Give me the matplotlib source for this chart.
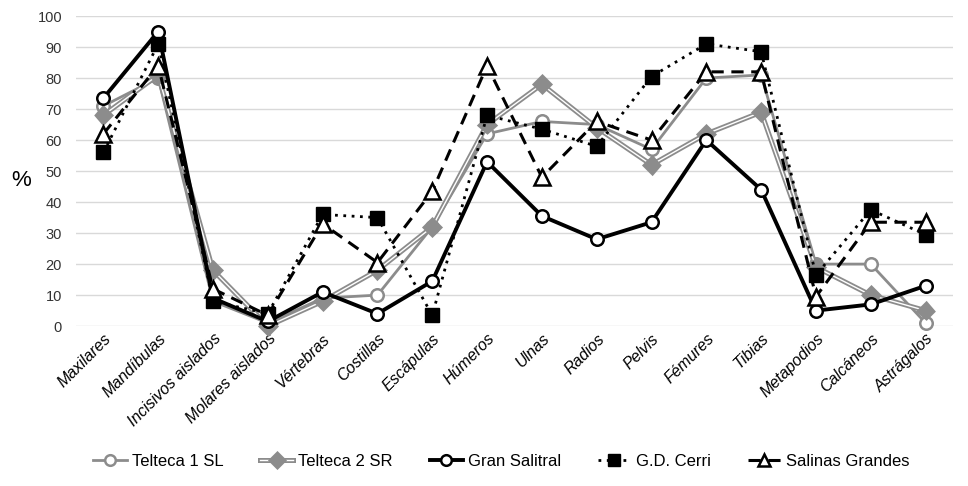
import matplotlib
matplotlib.use("Agg")
import matplotlib.pyplot as plt
import matplotlib.patheffects as pe

categories = ["Maxilares", "Mandíbulas", "Incisivos aislados", "Molares aislados",
              "Vértebras", "Costillas", "Escápulas", "Húmeros", "Ulnas", "Radios",
              "Pelvis", "Fémures", "Tibias", "Metapodios", "Calcáneos", "Astrágalos"]

telteca1 = [71, 80, 8, 1, 9, 10, 32, 62, 66, 65, 57, 80, 81, 20, 20, 1]
telteca2 = [68, 81, 18, 0, 8, 18, 32, 65, 78, 64, 52, 62, 69, 19, 10, 5]
gran_salitral = [73.5, 95, 9, 1.5, 11, 4, 14.5, 53, 35.5, 28, 33.5, 60, 44, 5, 7, 13]
gd_cerri = [56, 91, 8, 4, 36, 35, 3.5, 68, 63.5, 58, 80.5, 91, 88.5, 16.5, 37.5, 29.5]
salinas = [62, 84, 12, 3.5, 33, 20.5, 43.5, 84, 48, 66, 60, 82, 82, 9.5, 33.5, 33.5]

plt.rcParams["font.family"] = ["Liberation Sans", "DejaVu Sans"]

x = list(range(len(categories)))
fig = plt.figure(figsize=(9.68, 4.86), dpi=100)
ax = fig.add_axes([0.0785, 0.329, 0.906, 0.638])

gray = "#8c8c8c"
ax.plot(x, telteca1, color=gray, lw=2, marker="o", ms=9, mfc="white", mec=gray,
        mew=1.8, label="Telteca 1 SL", clip_on=False, zorder=3)
ax.plot(x, telteca2, color="white", lw=1, marker="D", ms=7, mfc=gray, mec=gray,
        label="Telteca 2 SR", clip_on=False, zorder=3,
        path_effects=[pe.Stroke(linewidth=3.6, foreground=gray), pe.Normal()])
ax.plot(x, gran_salitral, color="black", lw=2.8, marker="o", ms=9, mfc="white",
        mec="black", mew=1.8, label="Gran Salitral", clip_on=False, zorder=4)
ax.plot(x, gd_cerri, color="black", lw=2, ls=(0, (1, 2)), marker="s", ms=10,
        mfc="black", mec="black", label="G.D. Cerri", clip_on=False, zorder=5)
ax.plot(x, salinas, color="black", lw=2.2, ls=(0, (4, 2.5)), marker="^", ms=11,
        mfc="white", mec="black", mew=1.8, label="Salinas Grandes", clip_on=False,
        zorder=5)

ax.set_xlim(-0.5, len(categories) - 0.5)
ax.set_ylim(0, 100)
ax.set_yticks(range(0, 101, 10))
ax.yaxis.grid(True, color="#d9d9d9", lw=1)
ax.set_axisbelow(True)
for s in ax.spines.values():
    s.set_visible(False)
ax.tick_params(axis="both", length=0, labelsize=10.5, colors="#333333")
ax.tick_params(axis="y", pad=10)
ax.set_xticks(x)
ax.set_xticklabels(categories, rotation=45, ha="right", rotation_mode="anchor",
                   style="italic", fontsize=11.5, color="black")
ax.set_ylabel("%", rotation=0, fontsize=16, va="center", ha="center")
ax.yaxis.set_label_coords(-0.062, 0.47)

leg = fig.legend(loc="center", bbox_to_anchor=(0.518, 0.051), ncol=5, frameon=False,
                 fontsize=12, handlelength=2.0, columnspacing=2.2, handletextpad=0.3,
                 markerscale=0.85)

fig.savefig("out.png", dpi=100)
